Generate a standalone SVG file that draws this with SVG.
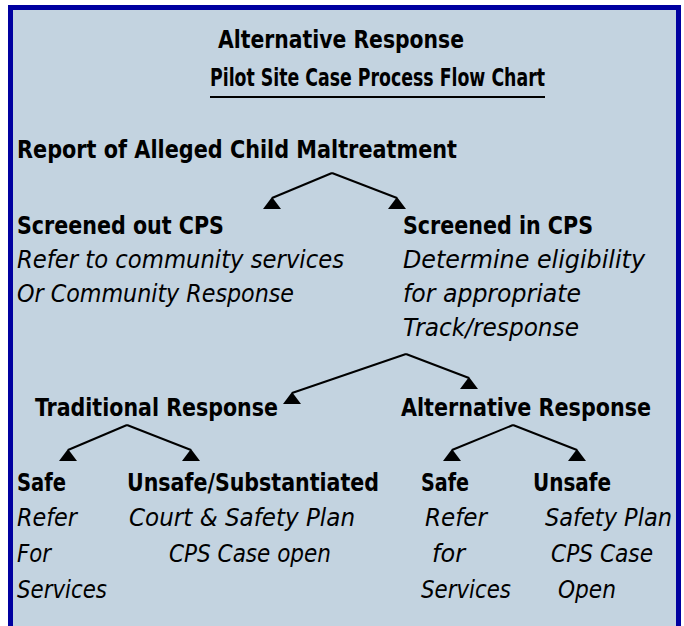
<svg xmlns="http://www.w3.org/2000/svg" width="684" height="626" viewBox="0 0 684 626">
<style>
.h{font-family:"DejaVu Sans Condensed","DejaVu Sans",sans-serif;font-size:24px;font-weight:bold;fill:#000}
.i{font-family:"DejaVu Sans Condensed","DejaVu Sans",sans-serif;font-size:24px;font-style:italic;fill:#000}
.c{stroke:#000;stroke-width:2;fill:none;marker-end:url(#tri)}
</style>
<defs>
<marker id="tri" markerUnits="userSpaceOnUse" viewBox="-10 0 20 14" refX="0" refY="1" markerWidth="20" markerHeight="14" orient="0">
<path d="M0,0 L9,12 L-9,12 Z" fill="#000"/>
</marker>
</defs>
<rect x="0" y="0" width="684" height="626" fill="#fff"/>
<rect x="10.5" y="7.5" width="668" height="640" fill="#C3D3E0" stroke="#0000A0" stroke-width="5"/>
<g id="title">
<text class="h" x="218" y="48" textLength="246" lengthAdjust="spacingAndGlyphs">Alternative Response</text>
<text class="h" x="210" y="86" textLength="335" lengthAdjust="spacingAndGlyphs">Pilot Site Case Process Flow Chart</text>
<line x1="210" y1="97" x2="545" y2="97" stroke="#000" stroke-width="2"/>
</g>
<g id="report"><text class="h" x="17" y="158" textLength="440" lengthAdjust="spacingAndGlyphs">Report of Alleged Child Maltreatment</text></g>
<g id="screened-out">
<text class="h" x="17" y="234" textLength="207" lengthAdjust="spacingAndGlyphs">Screened out CPS</text>
<text class="i" x="17" y="268" textLength="327" lengthAdjust="spacingAndGlyphs">Refer to community services</text>
<text class="i" x="17" y="302" textLength="277" lengthAdjust="spacingAndGlyphs">Or Community Response</text>
</g>
<g id="screened-in">
<text class="h" x="403" y="234" textLength="190" lengthAdjust="spacingAndGlyphs">Screened in CPS</text>
<text class="i" x="403" y="268" textLength="242" lengthAdjust="spacingAndGlyphs">Determine eligibility</text>
<text class="i" x="403" y="302" textLength="178" lengthAdjust="spacingAndGlyphs">for appropriate</text>
<text class="i" x="403" y="336" textLength="176" lengthAdjust="spacingAndGlyphs">Track/response</text>
</g>
<g id="traditional"><text class="h" x="35" y="416" textLength="243" lengthAdjust="spacingAndGlyphs">Traditional Response</text></g>
<g id="alternative"><text class="h" x="401" y="416" textLength="250" lengthAdjust="spacingAndGlyphs">Alternative Response</text></g>
<g id="trad-safe">
<text class="h" x="17" y="491" textLength="49" lengthAdjust="spacingAndGlyphs">Safe</text>
<text class="i" x="17" y="526" textLength="60" lengthAdjust="spacingAndGlyphs">Refer</text>
<text class="i" x="17" y="562" textLength="34" lengthAdjust="spacingAndGlyphs">For</text>
<text class="i" x="17" y="598" textLength="90" lengthAdjust="spacingAndGlyphs">Services</text>
</g>
<g id="trad-unsafe">
<text class="h" x="127" y="491" textLength="252" lengthAdjust="spacingAndGlyphs">Unsafe/Substantiated</text>
<text class="i" x="129" y="526" textLength="226" lengthAdjust="spacingAndGlyphs">Court &amp; Safety Plan</text>
<text class="i" x="169" y="562" textLength="162" lengthAdjust="spacingAndGlyphs">CPS Case open</text>
</g>
<g id="alt-safe">
<text class="h" x="421" y="491" textLength="48" lengthAdjust="spacingAndGlyphs">Safe</text>
<text class="i" x="425" y="526" textLength="62" lengthAdjust="spacingAndGlyphs">Refer</text>
<text class="i" x="432" y="562" textLength="33" lengthAdjust="spacingAndGlyphs">for</text>
<text class="i" x="421" y="598" textLength="90" lengthAdjust="spacingAndGlyphs">Services</text>
</g>
<g id="alt-unsafe">
<text class="h" x="533" y="491" textLength="78" lengthAdjust="spacingAndGlyphs">Unsafe</text>
<text class="i" x="545" y="526" textLength="127" lengthAdjust="spacingAndGlyphs">Safety Plan</text>
<text class="i" x="551" y="562" textLength="102" lengthAdjust="spacingAndGlyphs">CPS Case</text>
<text class="i" x="558" y="598" textLength="58" lengthAdjust="spacingAndGlyphs">Open</text>
</g>
<g id="connectors">
<polyline class="c" points="332,173 272,198"/>
<polyline class="c" points="332,173 397,198"/>
<polyline class="c" points="406,354 292,393"/>
<polyline class="c" points="406,354 469,378"/>
<polyline class="c" points="127,425 68,450"/>
<polyline class="c" points="127,425 191,450"/>
<polyline class="c" points="513,425 452,450"/>
<polyline class="c" points="513,425 577,450"/>
</g>
</svg>
